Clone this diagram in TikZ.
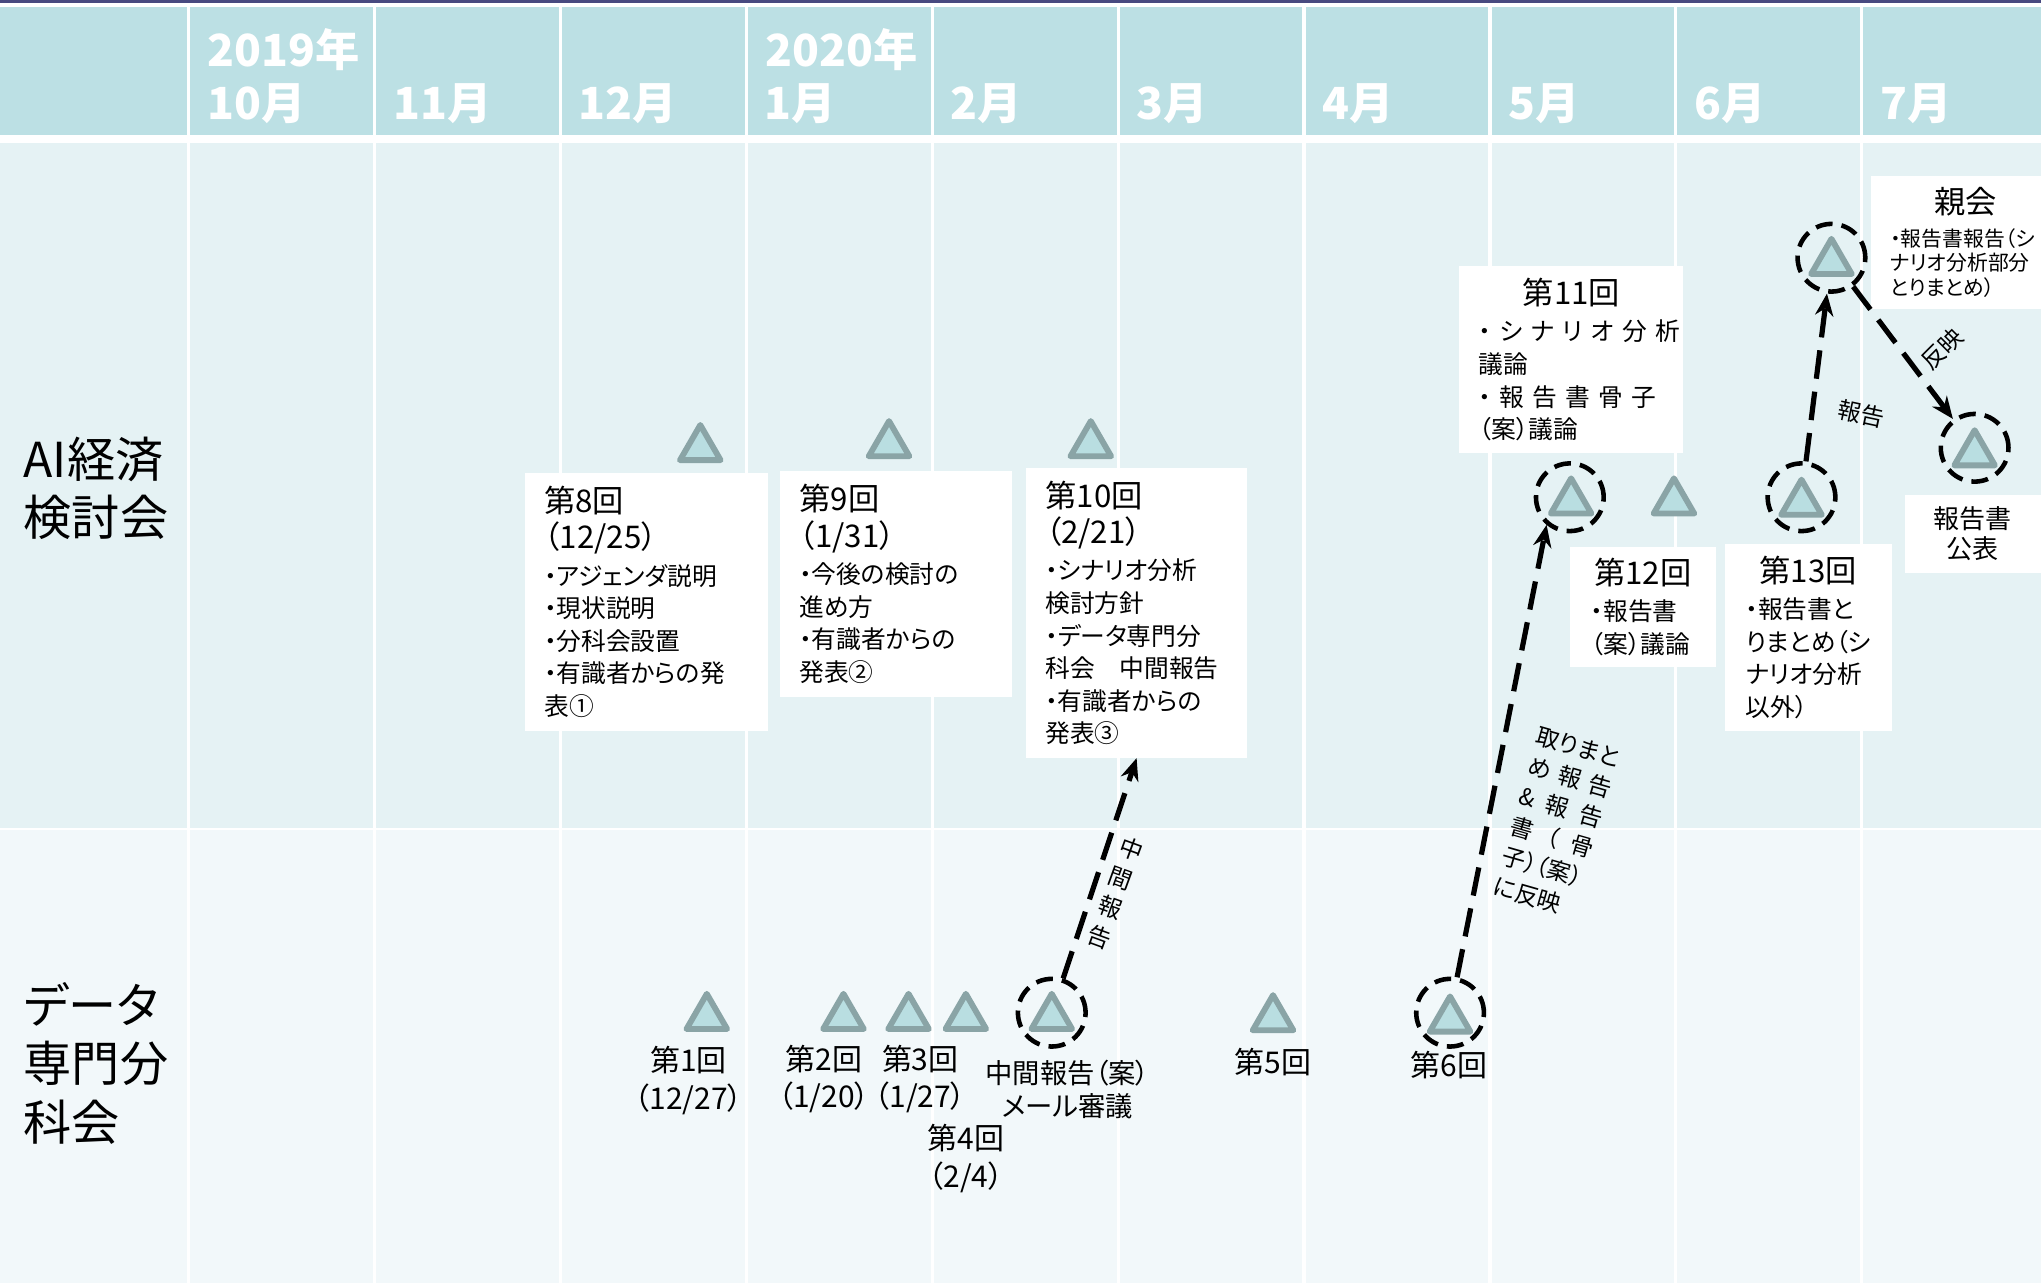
\documentclass[tikz,border=0pt]{standalone}
\usepackage{fontspec}
\setmainfont{Noto Sans CJK JP}[RawFeature=+palt]
\usetikzlibrary{shapes.geometric,arrows.meta}
\definecolor{headbg}{RGB}{188,224,228}
\definecolor{aibg}{RGB}{229,242,244}
\definecolor{databg}{RGB}{242,248,250}
\definecolor{topline}{RGB}{72,74,128}
\definecolor{trifill}{RGB}{185,222,225}
\definecolor{triedge}{RGB}{138,164,166}
\newcommand{\tsz}{\fontsize{24}{28}\selectfont}
\tikzset{
	tri/.style={regular polygon, regular polygon sides=3, minimum size=36pt, inner sep=0pt, fill=trifill, draw=triedge, line width=4.5pt, line join=round, yshift=-4.5pt},
	ring/.style={circle, minimum size=52pt, inner sep=0pt, draw, line width=3.5pt, dash pattern=on 13pt off 7pt},
	memo/.style={fill=white, anchor=north west, align=left, inner ysep=0pt, font=\fontsize{19}{25}\selectfont},
	flow/.style={line width=4pt, dash pattern=on 22pt off 10pt, -{Stealth[length=17pt,width=14pt]}},
	flowlbl/.style={font=\fontsize{18}{24}\selectfont, align=left, inner sep=0pt},
	monthlbl/.style={anchor=west, text=white, font=\fontsize{34}{40}\selectfont\bfseries, inner sep=0pt},
	rowlbl/.style={anchor=west, align=left, font=\fontsize{37}{45}\selectfont, inner sep=0pt},
	datalbl/.style={align=center, font=\fontsize{23}{29}\selectfont, inner sep=0pt}
}
\begin{document}
\begin{tikzpicture}[x=1pt,y=-1pt]
	\useasboundingbox (0,0) rectangle (1568,986);
	% background grid
	\fill[topline] (0,0) rectangle (1568,2);
	\fill[headbg] (0,5) rectangle (1568,104);
	\fill[aibg] (0,110) rectangle (1568,636);
	\fill[databg] (0,638) rectangle (1568,986);
	\foreach \i in {0,...,9}
		\draw[white, line width=2.5pt] (145+142.8*\i,5) -- ++(0,981);
	\foreach \mon [count=\i from 0] in {10月,11月,12月,1月,2月,3月,4月,5月,6月,7月}
		\node[monthlbl] (m\i) at (159+142.8*\i,80) {\mon};
	\node[monthlbl] (y2019) at (159,38) {2019年};
	\node[monthlbl] (y2020) at (588,38) {2020年};
	\node[rowlbl] (ai) at (18,375) {AI経済\\検討会};
	\node[rowlbl] (data) at (18,817) {データ\\専門分\\科会};

	% AI経済検討会
	\node[memo, text width=157pt, inner xsep=15pt, minimum height=198pt] (b8) at (403,363)
		{{\tsz 第8回}\\[3pt]{\tsz （12/25）}\\[3pt]・アジェンダ説明\\・現状説明\\・分科会設置\\・有識者からの発\\表①};
	\node[memo, text width=148pt, inner xsep=15pt, minimum height=173pt] (b9) at (599,362)
		{{\tsz 第9回}\\[3pt]{\tsz （1/31）}\\[3pt]・今後の検討の\\進め方\\・有識者からの\\発表②};
	\node[memo, text width=140pt, inner xsep=15pt, minimum height=223pt] (b10) at (788,359)
		{{\tsz 第10回}\\[3pt]{\tsz （2/21）}\\[3pt]・シナリオ分析\\検討方針\\・データ専門分\\科会\hspace{1em}中間報告\\・有識者からの\\発表③};
	\node[memo, text width=142pt, inner xsep=15pt, minimum height=144pt] (b11) at (1121,204)
		{\makebox[142pt]{\tsz 第11回}\\[3pt]\makebox[142pt][s]{・ シ ナ リ オ 分 析}\\議論\\\makebox[142pt][s]{・ 報 告 書 骨 子}\\（案）議論};
	\node[memo, text width=80pt, inner xsep=16pt, minimum height=92pt] (b12) at (1206,420)
		{\makebox[80pt]{\tsz 第12回}\\[3pt]・報告書\\（案）議論};
	\node[memo, text width=96pt, inner xsep=16pt, minimum height=143pt] (b13) at (1325,418)
		{\makebox[96pt]{\tsz 第13回}\\[3pt]・報告書と\\りまとめ（シ\\ナリオ分析\\以外）};
	\node[memo, text width=116pt, inner xsep=15pt, minimum height=102pt, font=\fontsize{16}{19}\selectfont] (boya) at (1437,135)
		{\makebox[116pt]{\tsz 親会}\\[6pt]・報告書報告（シ\\ナリオ分析部分\\とりまとめ）};
	\node[memo, align=center, text width=85pt, inner xsep=10pt, minimum height=60pt, font=\fontsize{20}{23}\selectfont] (bpub) at (1463,380)
		{報告書\\公表};

	\node[tri] (t8) at (538,340) {};
	\node[tri] (t9) at (683,337) {};
	\node[tri] (t10) at (838,337) {};
	\node[tri] (t11) at (1207,381) {};
	\node[tri] (t12) at (1286,381) {};
	\node[tri] (t13) at (1384,382) {};
	\node[tri] (toya) at (1407,197) {};
	\node[tri] (tpub) at (1517,344) {};

	% データ専門分科会
	\node[tri] (d1) at (543,777) {};
	\node[tri] (d2) at (648,777) {};
	\node[tri] (d3) at (698,777) {};
	\node[tri] (d4) at (742,777) {};
	\node[tri] (dmid) at (808,777) {};
	\node[tri] (d5) at (978,778) {};
	\node[tri] (d6) at (1114,779) {};
	\node[datalbl] (l1) at (529,830) {第1回\\（12/27）};
	\node[datalbl] (l2) at (633,829) {第2回\\（1/20）};
	\node[datalbl] (l3) at (707,829) {第3回\\（1/27）};
	\node[datalbl] (l4) at (742,890) {第4回\\（2/4）};
	\node[datalbl, font=\fontsize{21}{26}\selectfont] (lmid) at (820,837) {中間報告（案）\\メール審議};
	\node[datalbl] (l5) at (978,816) {第5回};
	\node[datalbl] (l6) at (1113,818) {第6回};

	% rings and flows
	\node[ring] (rmid) at (808,778) {};
	\node[ring] (r6) at (1114,778) {};
	\node[ring] (r11) at (1206,382) {};
	\node[ring] (r13) at (1384,382) {};
	\node[ring] (roya) at (1407,198) {};
	\node[ring] (rpub) at (1517,344) {};
	\draw[flow] (rmid) -- (b10.south);
	\draw[flow] (r6) -- (r11.230);
	\draw[flow] (r13) -- (roya);
	\draw[flow] (roya) -- (rpub);
	\node[flowlbl, align=center, rotate=-20] (f1) at (857,686) {中\\間\\報\\告};
	\node[flowlbl, rotate=-16] (f2) at (1196,632)
		{取りまと\\\makebox[66pt][s]{め 報 告}\\\makebox[66pt][s]{\& 報 告}\\\makebox[66pt][s]{書 （ 骨}\\子）（案）\\に反映};
	\node[flowlbl, rotate=-12] (f3) at (1430,318) {報告};
	\node[flowlbl, rotate=45] (f4) at (1492,268) {反映};
\end{tikzpicture}
\end{document}
